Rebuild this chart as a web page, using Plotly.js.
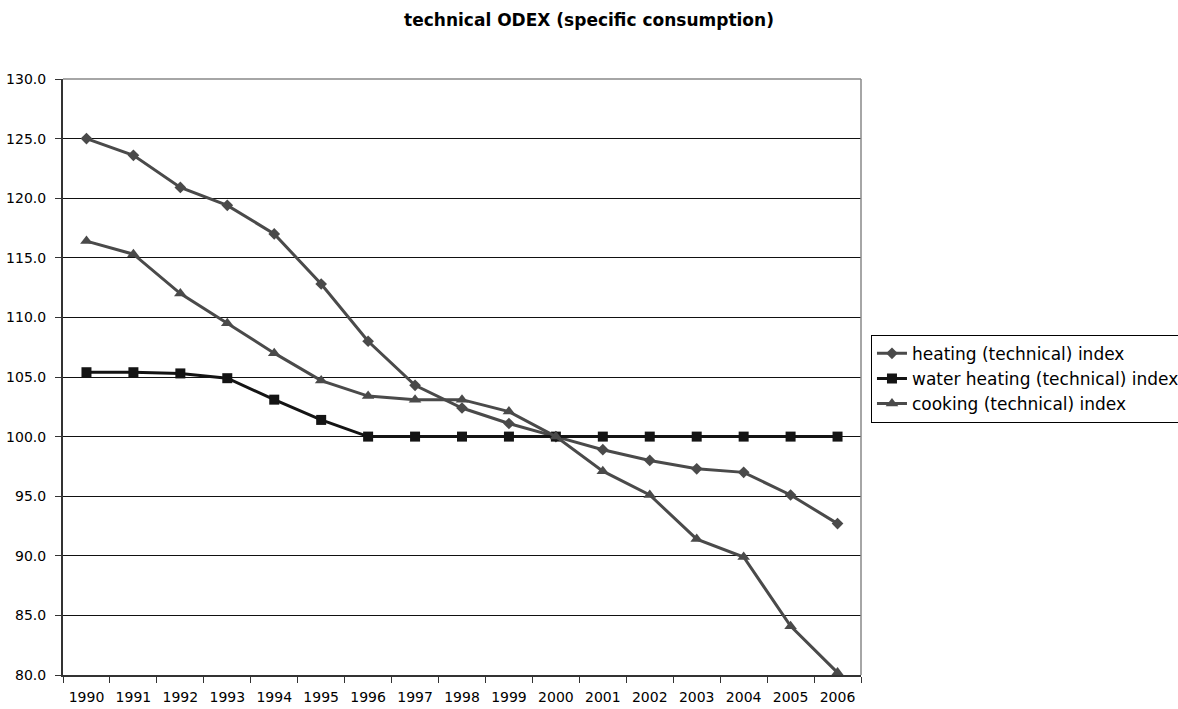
<!DOCTYPE html>
<html>
<head>
<meta charset="utf-8">
<script src="https://cdn.plot.ly/plotly-3.0.1.min.js"></script>
<style>html,body{margin:0;padding:0;background:#fff;}#chart{width:1178px;height:709px;overflow:hidden;}</style>
</head>
<body>
<div id="chart"></div>
<script>
const years = ["1990","1991","1992","1993","1994","1995","1996","1997","1998","1999","2000","2001","2002","2003","2004","2005","2006"];
const heating = [125.0,123.6,120.9,119.4,117.0,112.8,108.0,104.3,102.4,101.1,100.0,98.9,98.0,97.3,97.0,95.1,92.7];
const waterHeating = [105.4,105.4,105.3,104.9,103.1,101.4,100.0,100.0,100.0,100.0,100.0,100.0,100.0,100.0,100.0,100.0,100.0];
const cooking = [116.4,115.3,112.0,109.5,107.0,104.7,103.4,103.1,103.1,102.1,100.0,97.1,95.1,91.4,89.9,84.1,80.2];
const seriesNames = ["heating (technical) index","water heating (technical) index","cooking (technical) index"];

const fontFam = "'DejaVu Sans', sans-serif";
const traces = [
  {x: years, y: heating, name: seriesNames[0], type: "scatter", mode: "lines+markers",
   line: {color: "#4a4a4a", width: 3}, marker: {symbol: "diamond", size: 9, color: "#4a4a4a"}},
  {x: years, y: waterHeating, name: seriesNames[1], type: "scatter", mode: "lines+markers",
   line: {color: "#141414", width: 3}, marker: {symbol: "square", size: 10, color: "#141414"}},
  {x: years, y: cooking, name: seriesNames[2], type: "scatter", mode: "lines+markers",
   line: {color: "#4a4a4a", width: 3}, marker: {symbol: "triangle-up", size: 11, color: "#4a4a4a"}}
];
const layout = {
  width: 1178, height: 709,
  margin: {l: 63, r: 317, t: 79, b: 34, autoexpand: false},
  paper_bgcolor: "#fff", plot_bgcolor: "#fff",
  font: {family: fontFam, size: 14, color: "#000"},
  title: {text: "<b>technical ODEX (specific consumption)</b>", x: 0.5, xref: "container", xanchor: "center",
          y: 0.972, yref: "container", yanchor: "middle",
          font: {family: fontFam, size: 17, color: "#000"}},
  xaxis: {type: "category", range: [-0.5, 16.5], tickson: "boundaries", ticks: "outside", ticklen: 6, tickcolor: "#333",
          showgrid: false, showline: true, linecolor: "#333", linewidth: 2, mirror: false,
          tickfont: {size: 14}, zeroline: false, ticklabelstandoff: 8},
  yaxis: {range: [80, 130], dtick: 5, tickformat: ".1f", ticks: "outside", ticklen: 6, tickcolor: "#333",
          showgrid: true, gridcolor: "#111", gridwidth: 1, showline: true, linecolor: "#333", linewidth: 2,
          tickfont: {size: 14}, zeroline: false, ticklabelstandoff: 6},
  shapes: [
    {type: "line", xref: "paper", yref: "paper", x0: 1, x1: 1, y0: 0, y1: 1, line: {color: "#888", width: 1.5}},
    {type: "line", xref: "paper", yref: "paper", x0: 0, x1: 1, y0: 1, y1: 1, line: {color: "#888", width: 1.5}}
  ],
  legend: {x: 1.0125, xanchor: "left", y: 0.497, yanchor: "middle", bordercolor: "#000", borderwidth: 1,
           bgcolor: "#fff", font: {size: 17}, tracegroupgap: 0, itemwidth: 30},
  showlegend: true
};
Plotly.newPlot("chart", traces, layout, {displayModeBar: false, staticPlot: true});
</script>
</body>
</html>
